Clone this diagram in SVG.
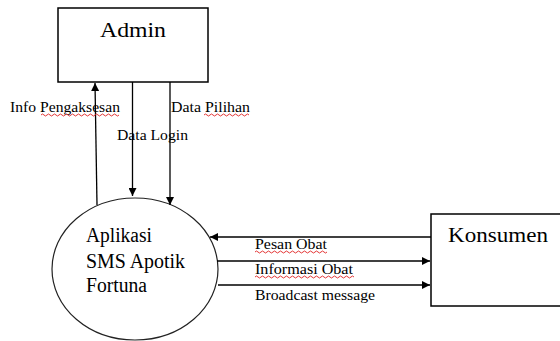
<svg xmlns="http://www.w3.org/2000/svg" width="560" height="341" viewBox="0 0 560 341">
<style>
.box{fill:#fff;stroke:#000;stroke-width:1.5}
.ell{fill:#fff;stroke:#222;stroke-width:1.2}
.ln{stroke:#000;stroke-width:1.3;fill:none}
.big{font-family:"Liberation Serif","Times New Roman",serif;font-size:22px;fill:#000}
.mid{font-family:"Liberation Serif","Times New Roman",serif;font-size:20px;fill:#000}
.lbl{font-family:"Liberation Serif","Times New Roman",serif;font-size:14.5px;fill:#000}
.sq{stroke:#e02020;stroke-width:0.9;fill:none}
</style>
<defs>
<marker id="ah" viewBox="0 0 10 10" refX="10" refY="5" markerWidth="9" markerHeight="8" markerUnits="userSpaceOnUse" orient="auto">
<path d="M0,0 L10,5 L0,10 Z" fill="#000"/>
</marker>
</defs>
<rect width="560" height="341" fill="#fff"/>
<g id="admin">
<rect class="box" x="58" y="8" width="150" height="74"/>
<text class="big" x="100" y="37" textLength="66" lengthAdjust="spacingAndGlyphs">Admin</text>
</g>
<g id="aplikasi">
<ellipse class="ell" cx="135" cy="269" rx="83" ry="71"/>
<text class="mid" x="86" y="242" textLength="66" lengthAdjust="spacingAndGlyphs">Aplikasi</text>
<text class="mid" x="86" y="268" textLength="99" lengthAdjust="spacingAndGlyphs">SMS Apotik</text>
<text class="mid" x="86" y="292" textLength="61" lengthAdjust="spacingAndGlyphs">Fortuna</text>
</g>
<g id="konsumen">
<rect class="box" x="431" y="214" width="140" height="92"/>
<text class="big" x="448" y="242" textLength="100" lengthAdjust="spacingAndGlyphs">Konsumen</text>
</g>
<g id="connectors">
<line class="ln" x1="97" y1="205" x2="95" y2="83" marker-end="url(#ah)"/>
<line class="ln" x1="132.5" y1="82" x2="132.5" y2="196" marker-end="url(#ah)"/>
<line class="ln" x1="170" y1="82" x2="170" y2="205" marker-end="url(#ah)"/>
<line class="ln" x1="431" y1="237" x2="210" y2="237" marker-end="url(#ah)"/>
<line class="ln" x1="217" y1="261" x2="430" y2="261" marker-end="url(#ah)"/>
<line class="ln" x1="218" y1="285" x2="430" y2="285" marker-end="url(#ah)"/>
</g>
<g id="labels">
<text class="lbl" x="10" y="112" textLength="110" lengthAdjust="spacingAndGlyphs">Info Pengaksesan</text>
<text class="lbl" x="171" y="112" textLength="79" lengthAdjust="spacingAndGlyphs">Data Pilihan</text>
<text class="lbl" x="117" y="140" textLength="71" lengthAdjust="spacingAndGlyphs">Data Login</text>
<text class="lbl" x="255" y="249" textLength="72" lengthAdjust="spacingAndGlyphs">Pesan Obat</text>
<text class="lbl" x="255" y="274" textLength="98" lengthAdjust="spacingAndGlyphs">Informasi Obat</text>
<text class="lbl" x="255" y="300" textLength="120" lengthAdjust="spacingAndGlyphs">Broadcast message</text>
<path class="sq" d="M41,115 q1.5,-2 3,0 t3,0 t3,0 t3,0 t3,0 t3,0 t3,0 t3,0 t3,0 t3,0 t3,0 t3,0 t3,0 t3,0 t3,0 t3,0 t3,0 t3,0 t3,0 t3,0 t3,0 t3,0 t3,0 t3,0 t3,0 t3,0"/>
<path class="sq" d="M204,115 q1.5,-2 3,0 t3,0 t3,0 t3,0 t3,0 t3,0 t3,0 t3,0 t3,0 t3,0 t3,0 t3,0 t3,0 t3,0 t3,0"/>
<path class="sq" d="M255,252 q1.5,-2 3,0 t3,0 t3,0 t3,0 t3,0 t3,0 t3,0 t3,0 t3,0 t3,0 t3,0 t3,0 t3,0 t3,0 t3,0 t3,0 t3,0 t3,0 t3,0 t3,0 t3,0 t3,0 t3,0 t3,0"/>
<path class="sq" d="M255,277 q1.5,-2 3,0 t3,0 t3,0 t3,0 t3,0 t3,0 t3,0 t3,0 t3,0 t3,0 t3,0 t3,0 t3,0 t3,0 t3,0 t3,0 t3,0 t3,0 t3,0 t3,0 t3,0 t3,0 t3,0 t3,0 t3,0 t3,0 t3,0 t3,0 t3,0 t3,0 t3,0 t3,0 t3,0"/>
</g>
</svg>
